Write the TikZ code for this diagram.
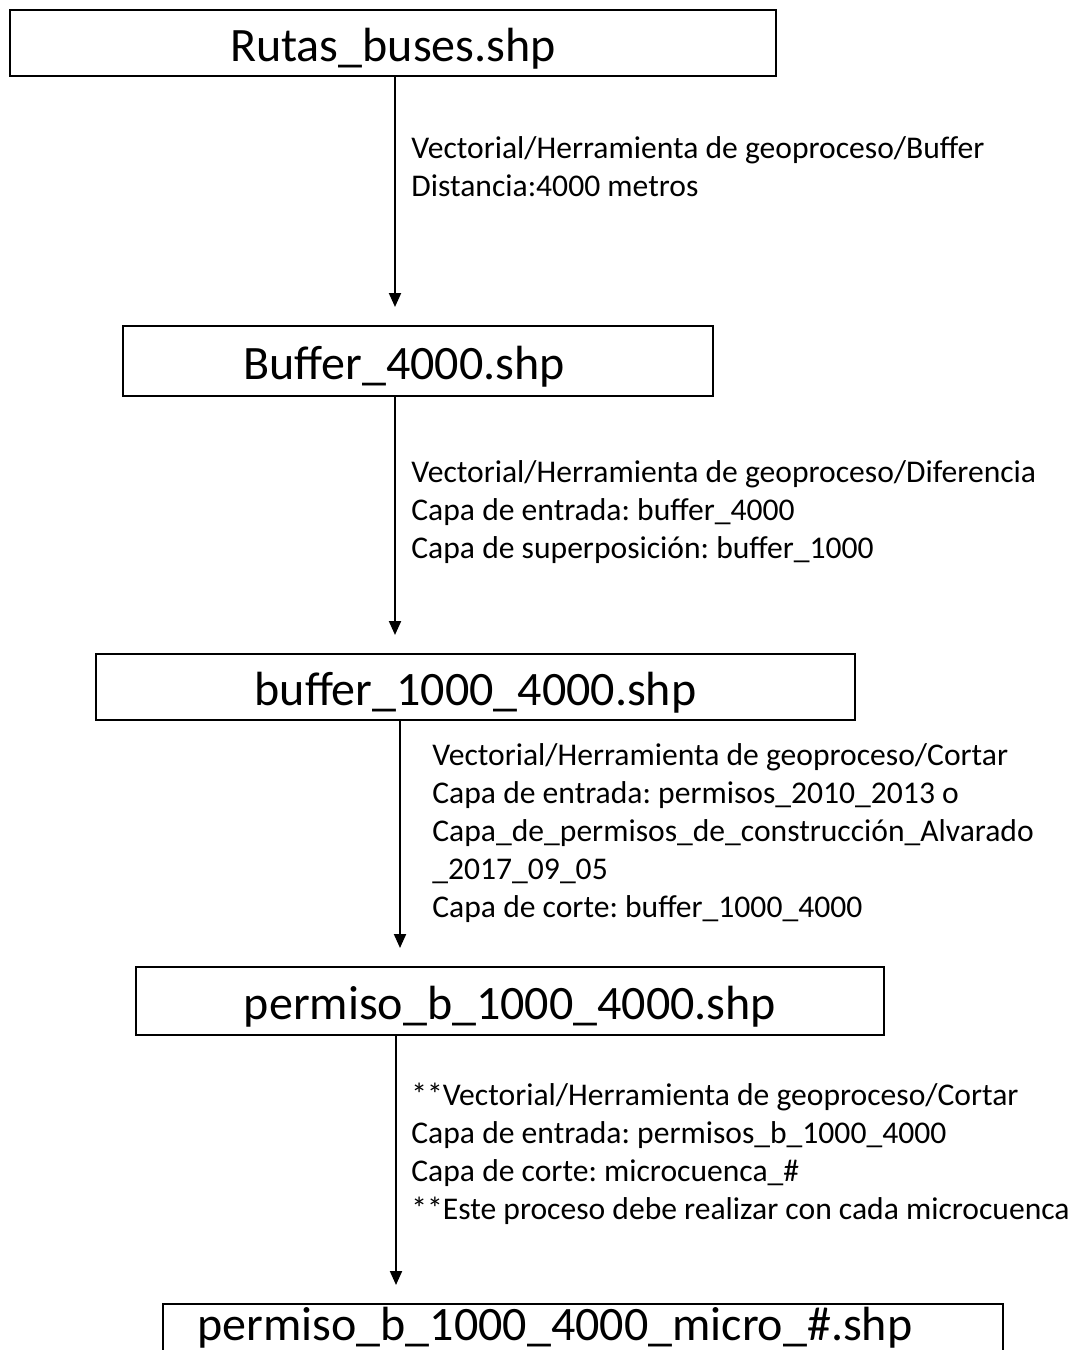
\documentclass[tikz,border=0pt]{standalone}
\usepackage{fontspec}
\setmainfont{Carlito}
\usetikzlibrary{arrows.meta}
\frenchspacing

\tikzset{
  capa/.style={draw, line width=1pt, inner sep=0pt, text height=22pt, text depth=4pt, font=\fontsize{24}{28.8}\selectfont},
  paso/.style={anchor=north west, align=left, inner sep=0pt, font=\fontsize{15.8}{19}\selectfont},
  flecha/.style={-{Triangle[length=7pt,width=6pt]}, line width=1pt, shorten >=9pt},
}

\begin{document}
\begin{tikzpicture}[x=0.5pt, y=-0.5pt]
  \useasboundingbox (0,0) rectangle (1084,1350);
  \clip (0,0) rectangle (1084,1350);

  % capas (shp)
  \node[capa, minimum width=383pt, minimum height=33pt] (rutas) at (393,43) {Rutas\_buses.shp};
  \node[capa, minimum width=295pt, minimum height=35pt] (buf4000) at (418,361) {\hspace*{-14pt}Buffer\_4000.shp};
  \node[capa, minimum width=379.5pt, minimum height=33pt] (buf1000) at (475.5,687) {buffer\_1000\_4000.shp};
  \node[capa, minimum width=374pt, minimum height=34pt] (permiso) at (510,1001) {permiso\_b\_1000\_4000.shp};
  \node[capa, minimum width=420pt, text height=18pt, text depth=14pt, anchor=north] (micro) at (583,1303) {\hspace*{-28pt}permiso\_b\_1000\_4000\_micro\_\#.shp};

  % procesos
  \node[paso] (p1) at (411,136) {Vectorial/Herramienta de geoproceso/Buffer\\Distancia:4000 metros};
  \node[paso] (p2) at (411,460) {Vectorial/Herramienta de geoproceso/Diferencia\\Capa de entrada: buffer\_4000\\Capa de superposición: buffer\_1000};
  \node[paso] (p3) at (432,743) {Vectorial/Herramienta de geoproceso/Cortar\\Capa de entrada: permisos\_2010\_2013 o\\Capa\_de\_permisos\_de\_construcción\_Alvarado\\\_2017\_09\_05\\Capa de corte: buffer\_1000\_4000};
  \node[paso] (p4) at (411,1083) {**Vectorial/Herramienta de geoproceso/Cortar\\Capa de entrada: permisos\_b\_1000\_4000\\Capa de corte: microcuenca\_\#\\**Este proceso debe realizar con cada microcuenca};

  % flechas
  \coordinate (x1) at (395,0);
  \coordinate (x2) at (395,0);
  \coordinate (x3) at (400,0);
  \coordinate (x4) at (396,0);
  \draw[flecha] (rutas.south -| x1) -- (buf4000.north -| x1);
  \draw[flecha] (buf4000.south -| x2) -- (buf1000.north -| x2);
  \draw[flecha] (buf1000.south -| x3) -- (permiso.north -| x3);
  \draw[flecha] (permiso.south -| x4) -- (micro.north -| x4);
\end{tikzpicture}
\end{document}
